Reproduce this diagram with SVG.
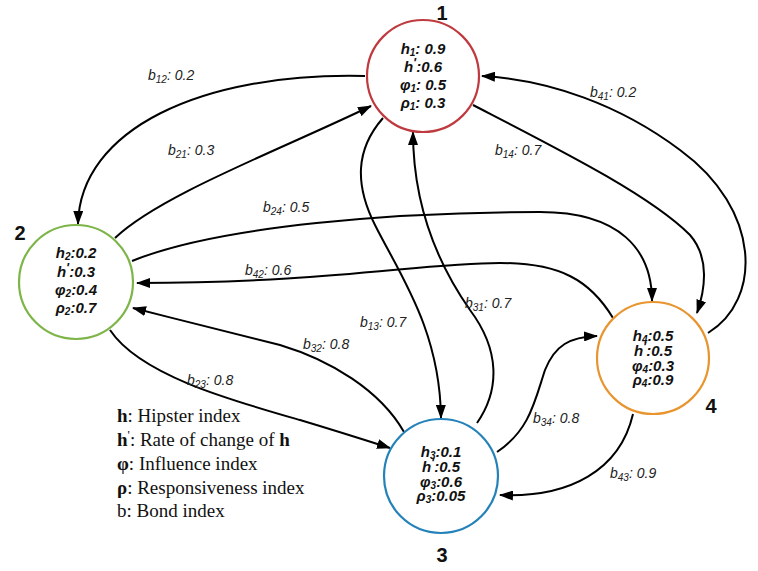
<svg xmlns="http://www.w3.org/2000/svg" width="758" height="571" viewBox="0 0 758 571">
<defs>
<style>
.bg{fill:#ffffff}
.nd{fill:#ffffff;stroke-width:2.2}
.nt{font-family:"Liberation Sans",Arial,sans-serif;font-size:15px;font-weight:bold;font-style:italic;fill:#111;text-anchor:middle}
.nl{font-family:"Liberation Sans",Arial,sans-serif;font-size:20px;font-weight:bold;fill:#111;text-anchor:middle}
.el{font-family:"Liberation Sans",Arial,sans-serif;font-size:14px;font-style:italic;fill:#222}
.sub{font-size:10px}
.pr{font-size:13px}
.lg{font-family:"Liberation Serif","Times New Roman",serif;font-size:19px;fill:#111}
.b{font-weight:bold}
.cn path{fill:none;stroke:#000;stroke-width:2;marker-end:url(#ah)}
</style>
<marker id="ah" viewBox="0 0 14 10" refX="13" refY="5" markerWidth="14" markerHeight="10" markerUnits="userSpaceOnUse" orient="auto"><path d="M0,0 L14,5 L0,10 z" fill="#000"/></marker>
</defs>
<rect class="bg" x="0" y="0" width="758" height="571"/>
<g id="connectors" class="cn">
<path id="e12" d="M365,76 C200,72 80,130 78,224"/>
<path id="e21" d="M115,238 C160,195 280,150 371,106"/>
<path id="e24" d="M132,261 C220,225 400,212 540,212 C620,212 652,250 652,301"/>
<path id="e42" d="M613,318 C590,280 560,263 500,263 C420,263 330,283 137,283"/>
<path id="e32" d="M404,432 C380,390 330,360 280,345 C220,330 180,320 133,308"/>
<path id="e23" d="M110,330 C140,375 230,400 300,420 C340,432 365,440 390,448"/>
<path id="e13" d="M383,118 C355,150 355,185 375,225 C400,275 440,330 441,418"/>
<path id="e31" d="M477,423 C500,390 500,350 470,310 C435,260 413,200 413,132"/>
<path id="e14" d="M473,105 C560,150 650,195 690,235 C710,258 705,290 697,313"/>
<path id="e41" d="M708,333 C762,300 762,210 680,150 C620,105 550,80 482,76"/>
<path id="e34" d="M497,452 C530,430 535,400 545,370 C555,345 570,337 597,336"/>
<path id="e43" d="M633,414 C620,470 570,498 500,495"/>
</g>
<g id="edge-labels">
<text class="el" x="148" y="80">b<tspan class="sub" dy="3">12</tspan><tspan dy="-3">: 0.2</tspan></text>
<text class="el" x="168" y="155">b<tspan class="sub" dy="3">21</tspan><tspan dy="-3">: 0.3</tspan></text>
<text class="el" x="263" y="212">b<tspan class="sub" dy="3">24</tspan><tspan dy="-3">: 0.5</tspan></text>
<text class="el" x="245" y="275">b<tspan class="sub" dy="3">42</tspan><tspan dy="-3">: 0.6</tspan></text>
<text class="el" x="465" y="308">b<tspan class="sub" dy="3">31</tspan><tspan dy="-3">: 0.7</tspan></text>
<text class="el" x="360" y="327">b<tspan class="sub" dy="3">13</tspan><tspan dy="-3">: 0.7</tspan></text>
<text class="el" x="303" y="349">b<tspan class="sub" dy="3">32</tspan><tspan dy="-3">: 0.8</tspan></text>
<text class="el" x="187" y="385">b<tspan class="sub" dy="3">23</tspan><tspan dy="-3">: 0.8</tspan></text>
<text class="el" x="495" y="155">b<tspan class="sub" dy="3">14</tspan><tspan dy="-3">: 0.7</tspan></text>
<text class="el" x="590" y="97">b<tspan class="sub" dy="3">41</tspan><tspan dy="-3">: 0.2</tspan></text>
<text class="el" x="533" y="423">b<tspan class="sub" dy="3">34</tspan><tspan dy="-3">: 0.8</tspan></text>
<text class="el" x="610" y="478">b<tspan class="sub" dy="3">43</tspan><tspan dy="-3">: 0.9</tspan></text>
</g>
<g id="node1">
<circle class="nd" cx="423" cy="76" r="56" stroke="#bf3a3f"/>
<text class="nl" x="442" y="20">1</text>
<text class="nt" x="423" y="54">h<tspan class="sub" dy="2">1</tspan><tspan dy="-2">: 0.9</tspan></text>
<text class="nt" x="423" y="72">h<tspan class="pr" dy="-5">'</tspan><tspan dy="5">:0.6</tspan></text>
<text class="nt" x="423" y="90">φ<tspan class="sub" dy="2">1</tspan><tspan dy="-2">: 0.5</tspan></text>
<text class="nt" x="423" y="108">ρ<tspan class="sub" dy="2">1</tspan><tspan dy="-2">: 0.3</tspan></text>
</g>
<g id="node2">
<circle class="nd" cx="76" cy="282" r="57" stroke="#7db548"/>
<text class="nl" x="20" y="240">2</text>
<text class="nt" x="76" y="258">h<tspan class="sub" dy="2">2</tspan><tspan dy="-2">:0.2</tspan></text>
<text class="nt" x="76" y="277">h<tspan class="pr" dy="-5">'</tspan><tspan dy="5">:0.3</tspan></text>
<text class="nt" x="76" y="295">φ<tspan class="sub" dy="2">2</tspan><tspan dy="-2">:0.4</tspan></text>
<text class="nt" x="76" y="313">ρ<tspan class="sub" dy="2">2</tspan><tspan dy="-2">:0.7</tspan></text>
</g>
<g id="node3">
<circle class="nd" cx="441" cy="476" r="57" stroke="#2582b9"/>
<text class="nl" x="442" y="562">3</text>
<text class="nt" x="441" y="457">h<tspan class="sub" dy="2">3</tspan><tspan dy="-2">:0.1</tspan></text>
<text class="nt" x="441" y="472">h<tspan class="pr" dy="-5">'</tspan><tspan dy="5">:0.5</tspan></text>
<text class="nt" x="441" y="487">φ<tspan class="sub" dy="2">3</tspan><tspan dy="-2">:0.6</tspan></text>
<text class="nt" x="441" y="501">ρ<tspan class="sub" dy="2">3</tspan><tspan dy="-2">:0.05</tspan></text>
</g>
<g id="node4">
<circle class="nd" cx="653" cy="358" r="56" stroke="#e8952f"/>
<text class="nl" x="711" y="413">4</text>
<text class="nt" x="653" y="341">h<tspan class="sub" dy="2">4</tspan><tspan dy="-2">:0.5</tspan></text>
<text class="nt" x="653" y="356">h<tspan class="pr" dy="-5">'</tspan><tspan dy="5">:0.5</tspan></text>
<text class="nt" x="653" y="371">φ<tspan class="sub" dy="2">4</tspan><tspan dy="-2">:0.3</tspan></text>
<text class="nt" x="653" y="385">ρ<tspan class="sub" dy="2">4</tspan><tspan dy="-2">:0.9</tspan></text>
</g>
<g id="legend">
<text class="lg" x="117" y="422"><tspan class="b">h</tspan>: Hipster index</text>
<text class="lg" x="117" y="446"><tspan class="b">h</tspan><tspan class="pr" dy="-7">'</tspan><tspan dy="7">: Rate of change of </tspan><tspan class="b">h</tspan></text>
<text class="lg" x="117" y="470"><tspan class="b">φ</tspan>: Influence index</text>
<text class="lg" x="117" y="494"><tspan class="b">ρ</tspan>: Responsiveness index</text>
<text class="lg" x="117" y="517">b: Bond index</text>
</g>
</svg>
